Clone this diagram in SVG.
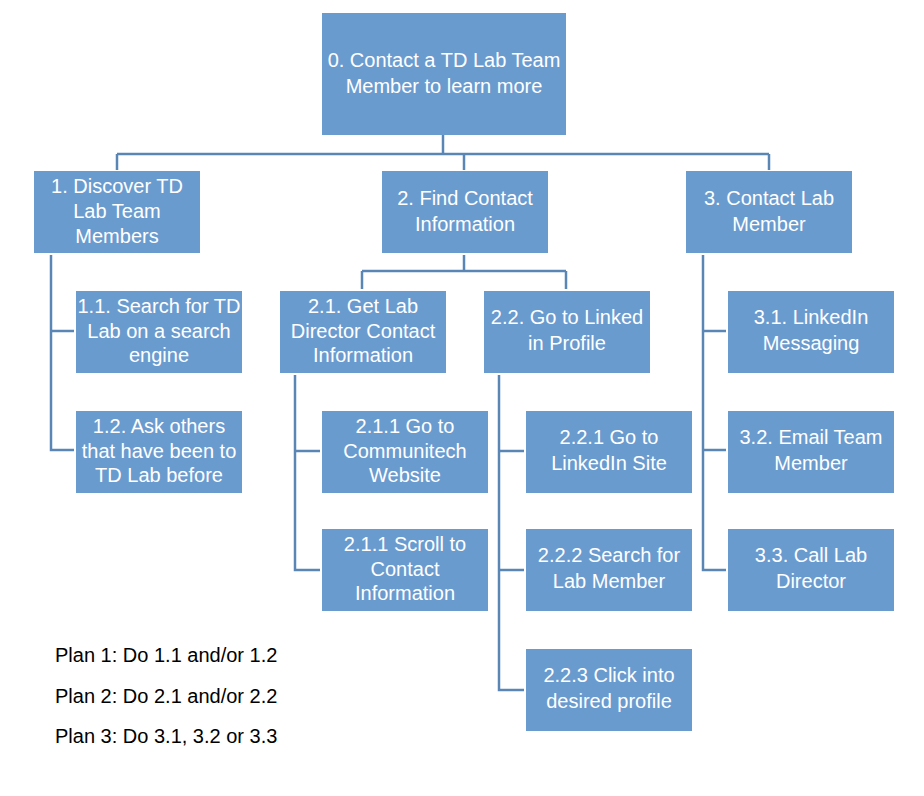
<svg xmlns="http://www.w3.org/2000/svg" width="924" height="796" viewBox="0 0 924 796">
<style>
.box{fill:#6A9BCF}
.t{fill:#FFFFFF;font-family:"Liberation Sans",Arial,sans-serif;font-size:20px;text-anchor:middle}
.plan{fill:#000000;font-family:"Liberation Sans",Arial,sans-serif;font-size:20px}
.c{fill:none;stroke:#5A86B6;stroke-width:2.5}
</style>
<rect width="924" height="796" fill="#FFFFFF"/>
<g id="connectors">
<path class="c" d="M443,135V154M117,154H769M117,154V170M464,154V170M769,154V170"/>
<path class="c" d="M51,255V450H74M51,331H74"/>
<path class="c" d="M464,255V271M362,271H566M362,271V289M566,271V289"/>
<path class="c" d="M295,375V570H320M295,451H320"/>
<path class="c" d="M499,375V690H524M499,451H524M499,570H524"/>
<path class="c" d="M703,255V570H726M703,331H726M703,450H726"/>
</g>
<g id="n0"><rect class="box" x="322" y="13" width="244" height="122"/><text class="t" x="444" y="67">0. Contact a TD Lab Team</text><text class="t" x="444" y="93">Member to learn more</text></g>
<g id="n1"><rect class="box" x="34" y="171" width="166" height="82"/><text class="t" x="117" y="193">1. Discover TD</text><text class="t" x="117" y="218">Lab Team</text><text class="t" x="117" y="243">Members</text></g>
<g id="n2"><rect class="box" x="382" y="171" width="166" height="82"/><text class="t" x="465" y="205">2. Find Contact</text><text class="t" x="465" y="231">Information</text></g>
<g id="n3"><rect class="box" x="686" y="171" width="166" height="82"/><text class="t" x="769" y="205">3. Contact Lab</text><text class="t" x="769" y="231">Member</text></g>
<g id="n1_1"><rect class="box" x="76" y="291" width="166" height="82"/><text class="t" x="159" y="312.5">1.1. Search for TD</text><text class="t" x="159" y="337.5">Lab on a search</text><text class="t" x="159" y="362">engine</text></g>
<g id="n1_2"><rect class="box" x="76" y="411" width="166" height="82"/><text class="t" x="159" y="432.5">1.2. Ask others</text><text class="t" x="159" y="457.5">that have been to</text><text class="t" x="159" y="482">TD Lab before</text></g>
<g id="n2_1"><rect class="box" x="280" y="291" width="166" height="82"/><text class="t" x="363" y="312.5">2.1. Get Lab</text><text class="t" x="363" y="337.5">Director Contact</text><text class="t" x="363" y="362">Information</text></g>
<g id="n2_2"><rect class="box" x="484" y="291" width="166" height="82"/><text class="t" x="567" y="324">2.2. Go to Linked</text><text class="t" x="567" y="350">in Profile</text></g>
<g id="n2_1_1"><rect class="box" x="322" y="411" width="166" height="82"/><text class="t" x="405" y="432.5">2.1.1 Go to</text><text class="t" x="405" y="457.5">Communitech</text><text class="t" x="405" y="482">Website</text></g>
<g id="n2_1_2"><rect class="box" x="322" y="529" width="166" height="82"/><text class="t" x="405" y="550.5">2.1.1 Scroll to</text><text class="t" x="405" y="575.5">Contact</text><text class="t" x="405" y="600">Information</text></g>
<g id="n2_2_1"><rect class="box" x="526" y="411" width="166" height="82"/><text class="t" x="609" y="444">2.2.1 Go to</text><text class="t" x="609" y="470">LinkedIn Site</text></g>
<g id="n2_2_2"><rect class="box" x="526" y="529" width="166" height="82"/><text class="t" x="609" y="562">2.2.2 Search for</text><text class="t" x="609" y="588">Lab Member</text></g>
<g id="n2_2_3"><rect class="box" x="526" y="649" width="166" height="82"/><text class="t" x="609" y="682">2.2.3 Click into</text><text class="t" x="609" y="708">desired profile</text></g>
<g id="n3_1"><rect class="box" x="728" y="291" width="166" height="82"/><text class="t" x="811" y="324">3.1. LinkedIn</text><text class="t" x="811" y="350">Messaging</text></g>
<g id="n3_2"><rect class="box" x="728" y="411" width="166" height="82"/><text class="t" x="811" y="444">3.2. Email Team</text><text class="t" x="811" y="470">Member</text></g>
<g id="n3_3"><rect class="box" x="728" y="529" width="166" height="82"/><text class="t" x="811" y="562">3.3. Call Lab</text><text class="t" x="811" y="588">Director</text></g>
<g id="plans">
<text class="plan" x="55" y="662">Plan 1: Do 1.1 and/or 1.2</text>
<text class="plan" x="55" y="703">Plan 2: Do 2.1 and/or 2.2</text>
<text class="plan" x="55" y="743">Plan 3: Do 3.1, 3.2 or 3.3</text>
</g>
</svg>
